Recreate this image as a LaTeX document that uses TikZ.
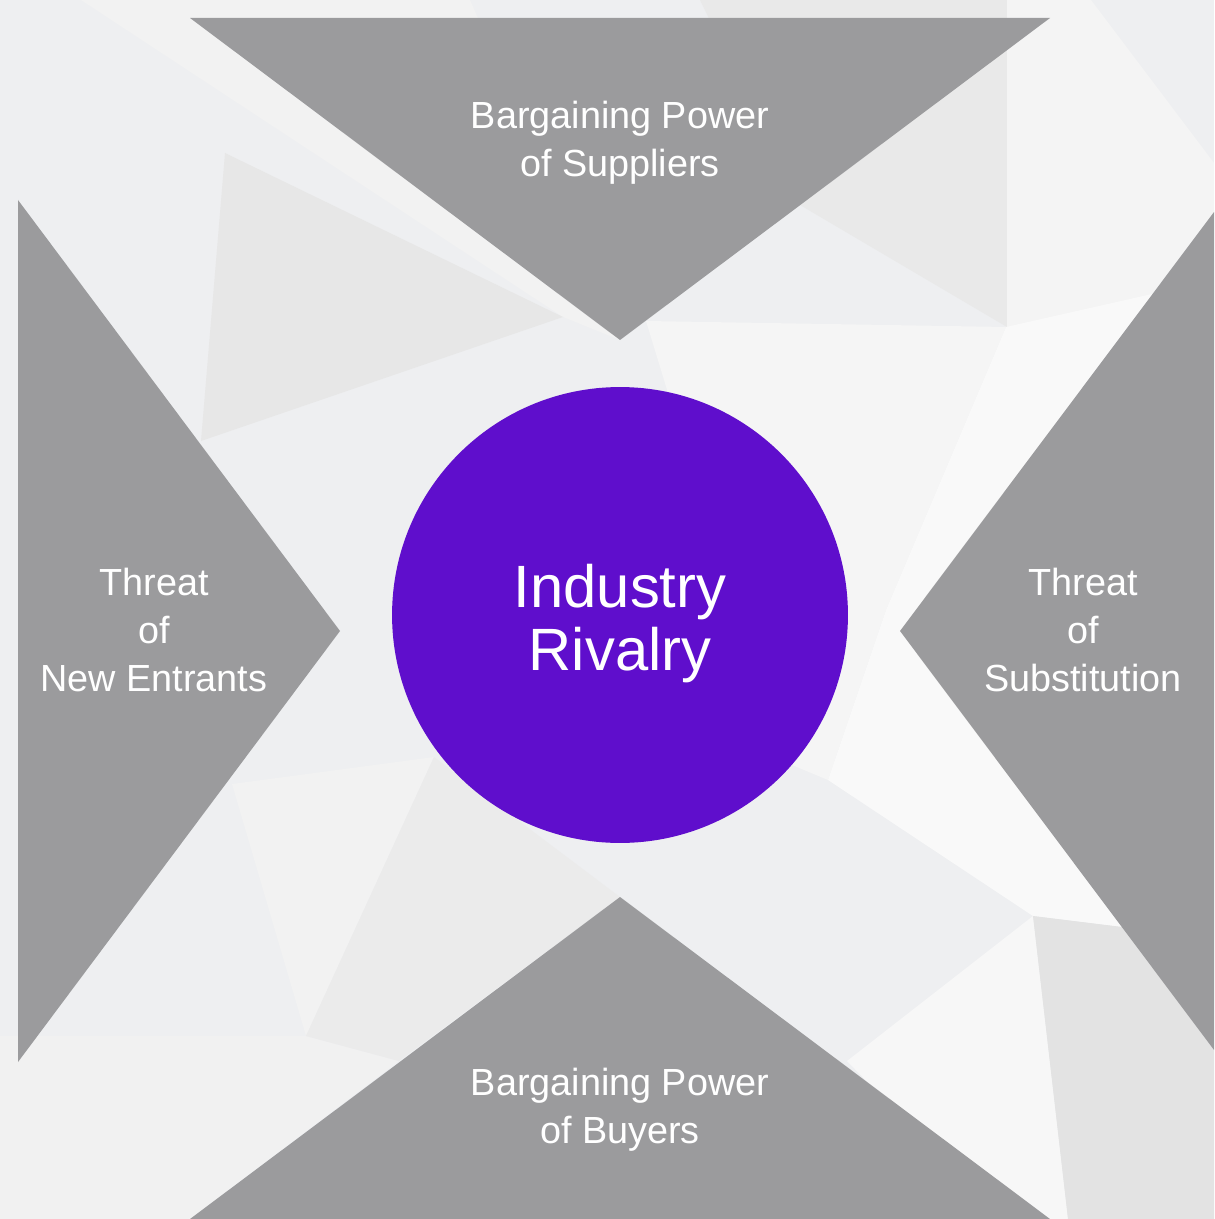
\documentclass[tikz,border=0pt]{standalone}
\usepackage{fontspec}
\setmainfont{Liberation Sans}

\definecolor{sfondo}{RGB}{238,239,241}
\definecolor{grigio}{RGB}{155,155,157}
\definecolor{viola}{RGB}{95,14,204}

\begin{document}
\begin{tikzpicture}[x=0.02cm,y=-0.02cm]

        % Stili globali
        \tikzset{
            forza/.style={fill=grigio},
            etichetta/.style={text=white, align=center, font=\fontsize{21.5}{27.3}\selectfont},
            centro/.style={circle, fill=viola, minimum size=9.12cm, inner sep=0pt,
                text=white, align=center, font=\fontsize{34}{35.9}\selectfont}
        }

        % Sfondo (pattern poligonale chiaro)
        \fill[sfondo] (0,0) rectangle (1214,1219);
        \useasboundingbox (0,0) rectangle (1214,1219);
        \fill[black!5] (81,0) -- (470,0) -- (620,340) -- (563,317) -- cycle;
        \fill[black!9.5] (225,153) -- (563,317) -- (201,441) -- cycle;
        \fill[black!8.5] (700,0) -- (1007,0) -- (1007,327) -- (800,205) -- cycle;
        \fill[black!4.5] (1007,0) -- (1091,0) -- (1214,163) -- (1214,212) -- (1149,298) -- (1007,327) -- cycle;
        \fill[black!4] (646,321) -- (1006,327) -- (886,610) -- (828,780) -- (780,760) -- cycle;
        \fill[black!2.5] (1006,327) -- (1214,280) -- (1214,1000) -- (1122,927) -- (1033,916) -- (828,780) -- (886,610) -- cycle;
        \fill[black!3] (1033,916) -- (1068,1219) -- (1000,1219) -- (847,1061) -- cycle;
        \fill[black!11] (1033,916) -- (1122,927) -- (1214,1050) -- (1214,1219) -- (1068,1219) -- cycle;
        \fill[black!5] (232,784) -- (434,757) -- (306,1036) -- cycle;
        \fill[black!5.5] (0,1036) -- (306,1036) -- (399,1061) -- (190,1219) -- (0,1219) -- cycle;
        \fill[black!8] (434,757) -- (620,897) -- (399,1061) -- (306,1036) -- cycle;

        % Le quattro forze (triangoli)
        \fill[forza] (190,18) -- (1050,18) -- (620,340) -- cycle;
        \fill[forza] (190,1219) -- (1050,1219) -- (620,897) -- cycle;
        \fill[forza] (18,200) -- (340,631) -- (18,1062) -- cycle;
        \fill[forza] (1214,212) -- (900,631) -- (1214,1050) -- cycle;

        % Cerchio centrale
        \node[centro] (rivalita) at (620,615) {};
        \node[text=white, align=center, font=\fontsize{34}{35.9}\selectfont] (titolo) at (620,624) {Industry\\Rivalry};

        % Testi delle forze
        \node[etichetta] (fornitori) at (620,143) {Bargaining Power\\of Suppliers};
        \node[etichetta] (acquirenti) at (620,1110) {Bargaining Power\\of Buyers};
        \node[etichetta] (entranti) at (154,630) {Threat\\of\\New Entrants};
        \node[etichetta] (sostituti) at (1083,630) {Threat\\of\\Substitution};

    \end{tikzpicture}
\end{document}
